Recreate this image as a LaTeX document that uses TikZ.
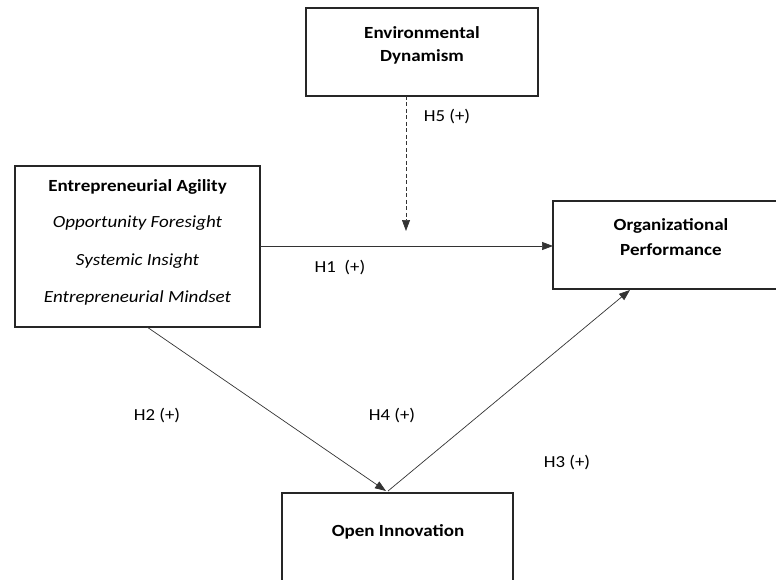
\documentclass[tikz,border=0pt]{standalone}
\usepackage{fontspec}
\setmainfont{Carlito}[FakeStretch=1.12]
\usetikzlibrary{arrows.meta}
\begin{document}
\begin{tikzpicture}[x=1pt,y=-1pt,
  box/.style={draw=black!85,line width=1.3pt},
  conn/.style={draw=black!80,line width=0.7pt,-{Triangle[length=11pt,width=8pt]}},
  lbl/.style={font=\fontsize{16.8}{19}\selectfont,inner sep=0pt},
  btxt/.style={font=\fontsize{17}{19}\selectfont\bfseries,inner sep=0pt},
  itxt/.style={font=\fontsize{17}{19}\selectfont\itshape,inner sep=0pt}]
\useasboundingbox (0,0) rectangle (776,580);
% boxes
\draw[box] (306,8) rectangle (538,96);
\coordinate (edS) at (406,96);
\node[btxt] (ed1) at (422,33) {Environmental};
\node[btxt] (ed2) at (422,57) {Dynamism};

\draw[box] (15,166) rectangle (260,327);
\node[btxt] (ea1) at (137.5,187) {Entrepreneurial Agility};
\node[itxt] (ea2) at (137.5,223) {Opportunity Foresight};
\node[itxt] (ea3) at (137.5,261) {Systemic Insight};
\node[itxt] (ea4) at (137.5,298) {Entrepreneurial Mindset};

\draw[box] (553,201) rectangle (792,289);
\node[btxt] (op1) at (671,226) {Organizational};
\node[btxt] (op2) at (671,250) {Performance};

\draw[box] (282,493) rectangle (513,600);
\node[btxt] (oi) at (398,532) {Open Innovation};

% connectors
\coordinate (eaR) at (260,246);
\coordinate (opL) at (553,246);
\coordinate (mod) at (406,231);
\coordinate (eaB) at (147,327);
\coordinate (oiT) at (386,491);
\coordinate (oiS) at (388,491);
\coordinate (opB) at (630,290);

\draw[conn] (eaR) -- (opL);
\draw[conn,dashed,dash pattern=on 4pt off 2.5pt] (edS) -- (mod);
\draw[conn] (eaB) -- (oiT);
\draw[conn] (oiS) -- (opB);

% labels
\node[lbl] (h5) at (447,117) {H5 (+)};
\node[lbl] (h1) at (340,268) {H1\ \ (+)};
\node[lbl] (h2) at (157,416) {H2 (+)};
\node[lbl] (h4) at (392,416) {H4 (+)};
\node[lbl] (h3) at (567,463) {H3 (+)};
\end{tikzpicture}
\end{document}
